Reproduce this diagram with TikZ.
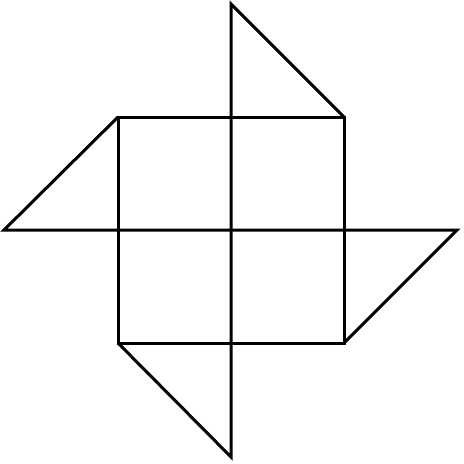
\documentclass[tikz,border=0pt]{standalone}
\begin{document}
\begin{tikzpicture}[x=1pt,y=-1pt,edge/.style={draw=black,line width=3pt,line join=miter}]
\useasboundingbox (0,0) rectangle (464,464);
\coordinate (A) at (118,117);
\coordinate (B) at (344,117);
\coordinate (C) at (344,343);
\coordinate (D) at (118,343);
\coordinate (T) at (231,4);
\coordinate (L) at (4,230);
\coordinate (R) at (457,230);
\coordinate (Bt) at (231,457);
\draw[edge] (A) -- (B) -- (C) -- (D) -- cycle;
\draw[edge] (B) -- (T) -- (Bt) -- (D);
\draw[edge] (A) -- (L) -- (R) -- (C);
\end{tikzpicture}
\end{document}
